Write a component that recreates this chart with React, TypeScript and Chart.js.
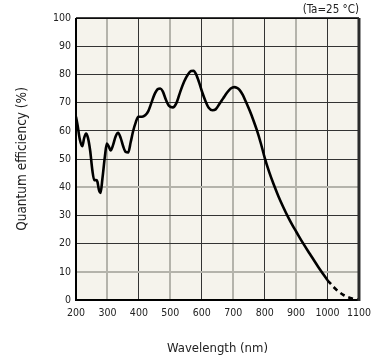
import React, { useEffect, useRef } from "react";
import { Chart, registerables } from "chart.js";

Chart.register(...registerables);

// Measured quantum efficiency curve (solid part)
const wavelengths = [
  200, 205, 212, 220, 226, 232, 238, 245, 252, 258, 264, 268, 273, 278, 284, 292, 298, 304, 310, 318,
  326, 334, 342, 350, 358, 366, 374, 382, 390, 398, 410, 420, 430, 440, 450, 460, 468, 476, 486, 496,
  508, 520, 532, 544, 556, 566, 574, 582, 592, 602, 612, 622, 634, 644, 656, 668, 680, 692, 704, 712,
  720, 730, 740, 753, 765, 775, 788, 800, 814, 828, 843, 859, 875, 890, 900, 920, 944, 970, 1000,
];
const qe = [
  65, 62, 57, 54.5, 57.5, 59, 57.5, 53, 46, 42.5, 42.5, 42, 39, 38, 43, 51, 55.5, 54.5, 53, 55,
  58, 59.3, 57.5, 54.5, 52.5, 52.3, 56, 60, 63, 65, 65, 65.5, 67, 70, 73, 74.8, 75, 74, 71, 68.8,
  68.3, 70, 74, 77.5, 80, 81.2, 81.3, 80, 77, 73.5, 70.5, 68.2, 67.3, 67.6, 69.5, 71.5, 73.5, 75, 75.5, 75.2,
  74.5, 72.8, 70.4, 67, 63.5, 60.3, 55.5, 50.5, 45.5, 41.2, 37, 33, 29.3, 26.2, 24.3, 20.5, 16.3, 11.8, 7,
];
// Extrapolated part (dashed)
const extWavelengths = [1000, 1025, 1050, 1075, 1100];
const extQe = [7, 4, 1.8, 0.6, 0];

const xTicks = [200, 300, 400, 500, 600, 700, 800, 900, 1000, 1100];
const yTicks = [0, 10, 20, 30, 40, 50, 60, 70, 80, 90, 100];
const xLightGrid = [300, 500, 700, 900];
const yLightGrid = [10, 40];

const FONT = "'DejaVu Sans Condensed', 'DejaVu Sans', sans-serif";
const LIGHT = "#b4b3ab";
const DARK = "#333333";

const frame = {
  id: "frame",
  beforeDraw(chart: any) {
    const { ctx, chartArea: a } = chart;
    ctx.save();
    ctx.fillStyle = "#f5f3ec";
    ctx.fillRect(a.left, a.top, a.right - a.left, a.bottom - a.top);
    ctx.restore();
  },
  afterDatasetsDraw(chart: any) {
    const { ctx, chartArea: a } = chart;
    ctx.save();
    ctx.strokeStyle = "#000";
    ctx.lineWidth = 1.5;
    ctx.beginPath();
    ctx.moveTo(a.left, a.top);
    ctx.lineTo(a.right, a.top);
    ctx.stroke();
    ctx.lineWidth = 2;
    ctx.beginPath();
    ctx.moveTo(a.left, a.top);
    ctx.lineTo(a.left, a.bottom);
    ctx.lineTo(a.right, a.bottom);
    ctx.stroke();
    ctx.strokeStyle = "#2a2a2a";
    ctx.lineWidth = 3;
    ctx.beginPath();
    ctx.moveTo(a.right, a.top);
    ctx.lineTo(a.right, a.bottom + 1);
    ctx.stroke();
    ctx.restore();
  },
};

export default function App() {
  const ref = useRef<HTMLCanvasElement>(null);
  useEffect(() => {
    if (!ref.current) return;
    const chart = new Chart(ref.current, {
      type: "line",
      data: {
        datasets: [
          {
            data: wavelengths.map((w, i) => ({ x: w, y: qe[i] })),
            borderColor: "#000",
            borderWidth: 2.6,
            pointRadius: 0,
            cubicInterpolationMode: "monotone",
          },
          {
            data: extWavelengths.map((w, i) => ({ x: w, y: extQe[i] })),
            borderColor: "#000",
            borderWidth: 2.6,
            borderDash: [5, 4],
            pointRadius: 0,
            cubicInterpolationMode: "monotone",
          },
        ],
      },
      options: {
        animation: false,
        responsive: false,
        events: [],
        layout: { padding: { left: 0, right: 19, top: 0, bottom: 0 } },
        plugins: {
          legend: { display: false },
          tooltip: { enabled: false },
          title: {
            display: true,
            text: "(Ta=25 °C)",
            align: "end",
            color: "#222",
            font: { family: FONT, size: 11.5, weight: "normal", lineHeight: "13px" },
            padding: { top: 4, bottom: 1 },
          },
        },
        scales: {
          x: {
            type: "linear",
            min: 200,
            max: 1100,
            afterFit: (s: any) => {
              s.height = 62;
            },
            afterBuildTicks: (s: any) => {
              s.ticks = xTicks.map((v) => ({ value: v }));
            },
            ticks: {
              color: "#222",
              padding: 7,
              maxRotation: 0,
              autoSkip: false,
              font: { family: FONT, size: 10.5 },
              callback: (v: any) => String(v),
            },
            grid: {
              drawTicks: false,
              color: (c: any) => (xLightGrid.includes(c.tick?.value) ? LIGHT : DARK),
              lineWidth: (c: any) => (xLightGrid.includes(c.tick?.value) ? 2 : 1),
            },
            border: { display: false },
            title: {
              display: true,
              text: "Wavelength (nm)",
              color: "#222",
              font: { family: FONT, size: 13 },
              padding: { top: 0, bottom: 6 },
            },
          },
          y: {
            min: 0,
            max: 100,
            afterFit: (s: any) => {
              s.width = 76;
            },
            afterBuildTicks: (s: any) => {
              s.ticks = yTicks.map((v) => ({ value: v }));
            },
            ticks: {
              color: "#222",
              padding: 5,
              autoSkip: false,
              font: { family: FONT, size: 10.5 },
              callback: (v: any) => String(v),
            },
            grid: {
              drawTicks: false,
              color: (c: any) => (yLightGrid.includes(c.tick?.value) ? LIGHT : DARK),
              lineWidth: (c: any) => (yLightGrid.includes(c.tick?.value) ? 2 : 1),
            },
            border: { display: false },
            title: {
              display: true,
              text: "Quantum efficiency (%)",
              color: "#222",
              font: { family: FONT, size: 13.5 },
              padding: { top: 14, bottom: 0 },
            },
          },
        },
      },
      plugins: [frame],
    } as any);
    return () => chart.destroy();
  }, []);
  return (
    <div style={{ position: "absolute", left: 0, top: 0, width: 378, height: 362, background: "#fff" }}>
      <canvas ref={ref} width={378} height={362} style={{ display: "block" }} />
    </div>
  );
}
